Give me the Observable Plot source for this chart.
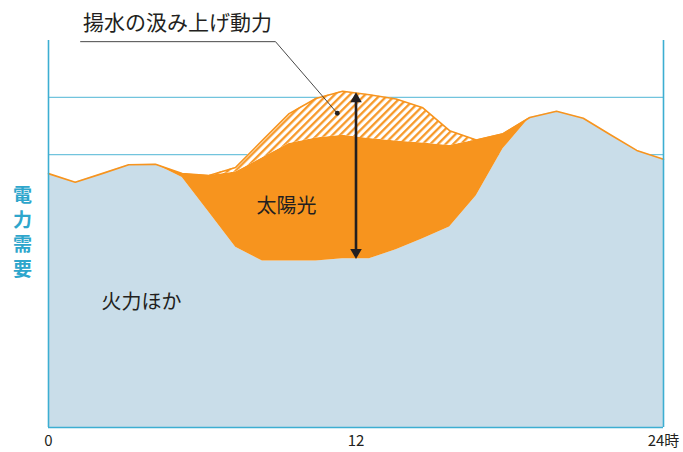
<!DOCTYPE html>
<html>
<head>
<meta charset="utf-8">
<script src="https://cdn.jsdelivr.net/npm/d3@7"></script>
<script src="https://cdn.jsdelivr.net/npm/@observablehq/plot@0.6"></script>
<style>
  html, body { margin: 0; padding: 0; background: #fff; }
  svg { display: block; }
</style>
</head>
<body>
<div id="chart"></div>
<script>
// hour slots (24 data points across the day)
const slots = [0,1,2,3,4,5,6,7,8,9,10,11,12,13,14,15,16,17,18,19,20,21,22,23];
// 火力ほか (thermal etc.)
const thermal = [65.6,63.4,65.6,67.9,68.0,64.6,55.6,46.6,43.0,43.0,43.0,43.6,43.6,45.9,48.8,51.8,59.9,72.0,80.1,81.7,79.9,75.7,71.6,69.3];
// 太陽光 (solar)
const solar = [0,0,0,0,0,1.0,9.5,19.4,26.7,30.4,31.8,31.9,31.1,28.1,24.7,21.1,14.4,3.9,0,0,0,0,0,0];
// 揚水の汲み上げ動力 (pumping)
const pumping = [0,0,0,0,0,0,0,1.2,4.5,7.7,10.2,11.4,11.3,10.9,9.1,3.8,0,0,0,0,0,0,0,0];

const gridValues = [85.3, 70.5];
const xTickValues = [0, 11.5, 23];
const xTickLabels = ["0", "12", "24時"];

const arrowX = 11.5;
const arrowTop = 86.6;
const arrowBottom = 43.6;

const titleText = "揚水の汲み上げ動力";
const titlePos = {x: 4.82, y: 104.4};
const leader = [{x: 1.2, y: 99.7}, {x: 8.49, y: 99.7}, {x: 10.8, y: 81.2}];
const labels = [
  {x: 8.9, y: 57.1, text: "太陽光"},
  {x: 3.48, y: 32.3, text: "火力ほか"}
];
const yLabelChars = ["電", "力", "需", "要"];

const rows = slots.map((s, i) => ({
  x: s,
  t: thermal[i],
  ts: thermal[i] + solar[i],
  d: thermal[i] + solar[i] + pumping[i]
}));
const pumpRows = rows.filter((r, i) => i >= 5 && i <= 16);

const teal = "#3daed2";
const gridTeal = "#72c4dd";
const blue = "#c9dde9";
const orange = "#f7941e";
const ink = "#231f20";

const chart = Plot.plot({
  width: 683,
  height: 452,
  marginLeft: 48,
  marginRight: 20,
  marginTop: 40,
  marginBottom: 25,
  x: {domain: [0, 23], label: null},
  y: {domain: [0, 100], axis: null},
  style: {fontFamily: "'Noto Sans CJK JP', 'Noto Sans', sans-serif", background: "#fff", overflow: "visible"},
  marks: [
    Plot.ruleY(gridValues, {stroke: gridTeal, strokeWidth: 1.3}),
    Plot.areaY(rows, {x: "x", y1: 0, y2: "t", fill: blue}),
    Plot.areaY(rows, {x: "x", y1: "t", y2: "ts", fill: orange}),
    Plot.areaY(pumpRows, {x: "x", y1: "ts", y2: "d", fill: "url(#hatch)"}),
    Plot.line(rows, {x: "x", y: "d", stroke: orange, strokeWidth: 1.6}),
    Plot.ruleX([0, 23], {y1: 0, y2: 100, stroke: teal, strokeWidth: 1.6}),
    Plot.ruleY([0], {stroke: teal, strokeWidth: 1.6}),
    // double arrow
    Plot.ruleX([arrowX], {y1: arrowTop, y2: arrowBottom, stroke: ink, strokeWidth: 2.6, insetTop: 7, insetBottom: 7}),
    Plot.dot([{x: arrowX, y: arrowTop}], {x: "x", y: "y", symbol: "triangle", r: 4.3, fill: ink, stroke: "none", dy: 6.5}),
    Plot.dot([{x: arrowX, y: arrowBottom}], {x: "x", y: "y", symbol: "triangle", r: 4.3, fill: ink, stroke: "none", rotate: 180, dy: -6.5}),
    // leader line
    Plot.line(leader, {x: "x", y: "y", stroke: "#333", strokeWidth: 0.9}),
    Plot.dot([leader[2]], {x: "x", y: "y", r: 2.4, fill: ink, stroke: "none"}),
    Plot.text([titlePos], {x: "x", y: "y", text: () => titleText, fontSize: 21, fill: ink, textAnchor: "middle"}),
    Plot.text(labels, {x: "x", y: "y", text: "text", fontSize: 20, fill: ink}),
    ...yLabelChars.map((c, i) => Plot.text([c], {frameAnchor: "left", textAnchor: "middle", dx: -26, dy: -38 + i * 24.5, text: d => d, fontSize: 19, fill: "#2ea6cc", fontWeight: "bold"})),
    Plot.axisX(xTickValues, {tickSize: 0, tickPadding: 8, fontSize: 15, fill: ink, label: null, tickFormat: (d) => xTickLabels[xTickValues.indexOf(d)]})
  ]
});

const svg = d3.select(chart);
svg.insert("defs", ":first-child").html(
  `<pattern id="hatch" patternUnits="userSpaceOnUse" width="5.4" height="5.4" patternTransform="rotate(45)">
     <rect width="5.4" height="5.4" fill="#fff"></rect>
     <line x1="1.2" y1="0" x2="1.2" y2="5.4" stroke="${orange}" stroke-width="2.2"></line>
   </pattern>`
);
document.getElementById("chart").appendChild(chart);
</script>
</body>
</html>
